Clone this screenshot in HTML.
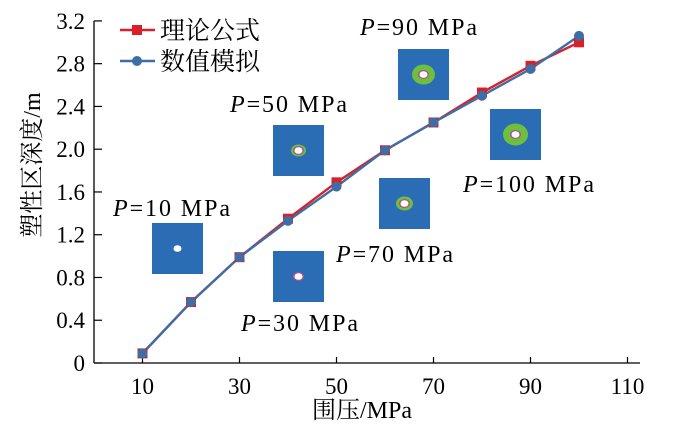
<!DOCTYPE html>
<html><head><meta charset="utf-8"><style>
body{margin:0;background:#fff;}
svg{display:block;font-family:"Liberation Serif","Noto Serif CJK SC",serif;}
</style></head><body>
<svg id="chart" width="688" height="426" viewBox="0 0 688 426">
<g id="insets"></g>
<g id="axes"></g>
<g id="series"></g>
<g id="legend"></g>
</svg>
<script>
const xValues=[10,20,30,40,50,60,70,80,90,100];
const theorySeries=[0.09,0.57,0.99,1.35,1.69,1.99,2.25,2.53,2.78,3.00];
const simSeries=[0.09,0.57,0.99,1.33,1.65,1.99,2.25,2.50,2.75,3.06];
const xTicks=[10,30,50,70,90,110];
const yTicks=[0,0.4,0.8,1.2,1.6,2.0,2.4,2.8,3.2];
const yTickLabels=["0","0.4","0.8","1.2","1.6","2.0","2.4","2.8","3.2"];
const seriesNames=["理论公式","数值模拟"];
const insetPressures=[10,30,50,70,90,100];

const NS="http://www.w3.org/2000/svg";
const X0=94,Y0=363,PX=4.85,PY=106.9;
const sx=v=>X0+v*PX, sy=v=>Y0-v*PY;
function mk(tag,attrs,parent,text){const e=document.createElementNS(NS,tag);for(const k in attrs)e.setAttribute(k,attrs[k]);if(text!==undefined)e.textContent=text;parent.appendChild(e);return e;}
const axes=document.getElementById('axes');
const xa=mk('line',{x1:X0,y1:Y0,x2:640,y2:Y0,stroke:'#000','stroke-width':1.3},axes);


const ya=mk('line',{x1:X0,y1:Y0,x2:X0,y2:sy(3.2),stroke:'#000','stroke-width':1.3},axes);


xTicks.forEach(t=>{
  mk('line',{x1:sx(t),y1:Y0,x2:sx(t),y2:Y0-6,stroke:'#000','stroke-width':1.2},axes);
  const l=mk('text',{x:sx(t),y:Y0+31,'font-size':23,'text-anchor':'middle'},axes,String(t));
  
  
});
yTicks.forEach((t,i)=>{
  mk('line',{x1:X0,y1:sy(t),x2:X0+8,y2:sy(t),stroke:'#000','stroke-width':1.2},axes);
  const l=mk('text',{x:X0-9,y:sy(t)+8,'font-size':23,'text-anchor':'end'},axes,yTickLabels[i]);
  
  
});
const xt=mk('text',{x:362,y:418,'font-size':24,'text-anchor':'middle'},axes,'围压/MPa');


const yt=mk('text',{x:0,y:0,'font-size':24,'text-anchor':'middle',transform:'translate(40,165) rotate(-90)'},axes,'塑性区深度/m');



// insets
const insets=document.getElementById('insets');
const boxes=[[152,223,113,216,2],[273,251,241,331,4],[273,125,230,112,6],[379,178,336,262,7],[398,49,360,35,10],[490,109,463,192,11]];
insetPressures.forEach((p,i)=>{
  const [bx,by,lx,ly,r]=boxes[i];
  const g=mk('g',{},insets);
  
  
  mk('rect',{x:bx,y:by,width:51,height:51,fill:'#2a6db5'},g);
  const cx=bx+25.5,cy=by+25.5;
  if(r>2){mk('ellipse',{cx,cy,rx:r+1.5,ry:r,fill:'#6fbf3f'},g);mk('ellipse',{cx,cy,rx:5.5,ry:4.5,fill:'#b0508a'},g);}
  mk('ellipse',{cx,cy,rx:4,ry:3.3,fill:'#fff'},g);
  const t=mk('text',{x:lx,y:ly,'font-size':24,textLength:(p==100?131:117),lengthAdjust:'spacing'},g);
  mk('tspan',{'font-style':'italic'},t,'P');
  mk('tspan',{},t,'='+p+' MPa');
});

// series
const series=document.getElementById('series');
function line(vals,color,name){
  const pts=xValues.map((x,i)=>sx(x)+','+sy(vals[i])).join(' ');
  const pl=mk('polyline',{points:pts,fill:'none',stroke:color,'stroke-width':2.4},series);
  
  
}
line(theorySeries,'#d9202a','theory');
line(simSeries,'#3e6ea6','simulation');
xValues.forEach((x,i)=>{
  const r=mk('rect',{x:sx(x)-5,y:sy(theorySeries[i])-5,width:10,height:10,fill:'#d9202a'},series);
  
  
});
xValues.forEach((x,i)=>{
  const c=mk('circle',{cx:sx(x),cy:sy(simSeries[i]),r:5,fill:'#3e6ea6'},series);
  
  
});

// legend
const lg=document.getElementById('legend');
const cols=['#d9202a','#3e6ea6'];
seriesNames.forEach((n,i)=>{
  const y=30+i*31;
  const g=mk('g',{},lg);
  
  
  mk('line',{x1:120,y1:y,x2:155,y2:y,stroke:cols[i],'stroke-width':2.4},g);
  if(i==0)mk('rect',{x:132,y:y-5,width:10,height:10,fill:cols[i]},g);
  else mk('circle',{cx:137,cy:y,r:5,fill:cols[i]},g);
  mk('text',{x:160,y:y+9,'font-size':25},g,n);
});
</script>
</body></html>
